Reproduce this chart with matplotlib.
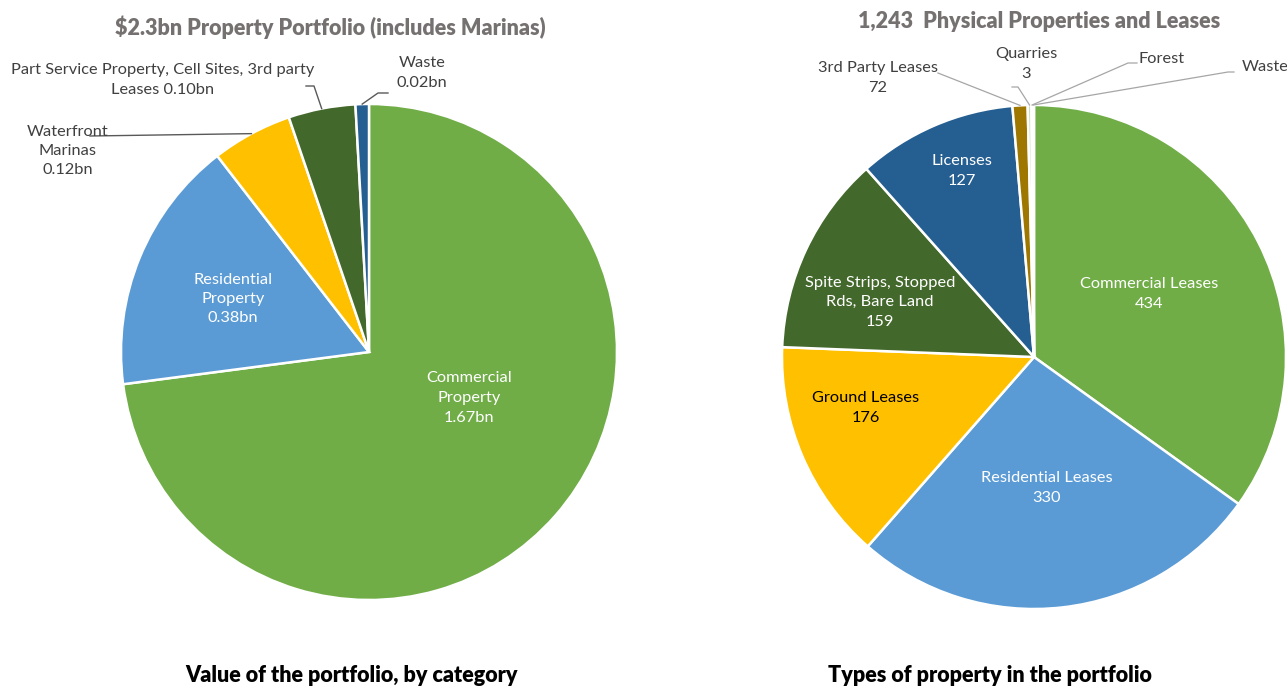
import numpy as np
import matplotlib.pyplot as plt

plt.rcParams['font.family'] = ['Lato', 'DejaVu Sans']

# left pie: value of the portfolio ($bn)
value_names = ["Commercial\nProperty\n1.67bn", "Residential\nProperty\n0.38bn",
               "Waterfront\nMarinas\n0.12bn",
               "Part Service Property, Cell Sites, 3rd party\nLeases 0.10bn",
               "Waste\n0.02bn"]
value_bn = [1.67, 0.38, 0.12, 0.10, 0.02]
value_colors = ["#70ad47", "#5b9bd5", "#ffc000", "#43682b", "#255e91"]

# right pie: number of properties / leases
# (label of 3rd party leases reads 72 but the slice is drawn ~12 so the total is 1,243)
type_names = ["Commercial Leases\n434", "Residential Leases\n330", "Ground Leases\n176",
              "Spite Strips, Stopped\nRds, Bare Land\n159", "Licenses\n127",
              "3rd Party Leases\n72", "Quarries\n3", "Forest", "Waste"]
type_counts = [434, 330, 176, 159, 127, 12, 3, 1, 1]
type_colors = ["#70ad47", "#5b9bd5", "#ffc000", "#43682b", "#255e91",
               "#9e7700", "#c5e0b4", "#a9d18e", "#e2f0d9"]

W, H = 1287, 687
fig = plt.figure(figsize=(W / 100, H / 100), dpi=100)
ax = fig.add_axes([0, 0, 1, 1])
ax.set_xlim(0, W)
ax.set_ylim(0, H)
ax.axis('off')

def Y(py):
    # pixel row (from top) -> axes y
    return H - py

def draw_pie(values, colors, center, radius):
    wedges, _ = ax.pie(values, colors=colors, startangle=90, counterclock=False,
                       center=center, radius=radius, frame=True,
                       wedgeprops=dict(edgecolor="white", linewidth=1.8))
    return wedges

def edge_point(w, frac=1.0):
    th = np.deg2rad((w.theta1 + w.theta2) / 2)
    cx, cy = w.center
    return cx + w.r * frac * np.cos(th), cy + w.r * frac * np.sin(th)

lab = dict(fontsize=11.8, ha="center", va="center", linespacing=1.5)
grey = "#404040"
line = dict(color="#a6a6a6", lw=0.9)

# ---- left pie
lw = draw_pie(value_bn, value_colors, (369, Y(352)), 248)
ax.text(469, Y(398), value_names[0], color="white", **lab)
ax.text(233, Y(299), value_names[1], color="white", **lab)
ax.text(68, Y(151), value_names[2], color=grey, **lab)
ax.text(163, Y(80), value_names[3], color=grey, **lab)
ax.text(422, Y(73), value_names[4], color=grey, **lab)

px, py = edge_point(lw[2])
ax.plot([90, px], [Y(136), py], color="#595959", lw=1.0)
px, py = edge_point(lw[3])
ax.plot([306, 314, px], [Y(86), Y(86), py], color="#595959", lw=1.0)
px, py = edge_point(lw[4])
ax.plot([388, 378, px], [Y(93), Y(93), py], color="#595959", lw=1.0)

# ---- right pie
rw = draw_pie(type_counts, type_colors, (1034, Y(357)), 252)
ax.text(1149, Y(294), type_names[0], color="white", **lab)
ax.text(1047, Y(488), type_names[1], color="white", **lab)
ax.text(866, Y(408), type_names[2], color="black", **lab)
ax.text(880, Y(302), type_names[3], color="white", **lab)
ax.text(962, Y(171), type_names[4], color="white", **lab)
ax.text(878, Y(78), type_names[5], color=grey, **lab)
ax.text(1026, Y(64), type_names[6], color=grey, **lab)
ax.text(1162, Y(59), type_names[7], color=grey, **lab)
ax.text(1265, Y(67), type_names[8], color=grey, **lab)

px, py = edge_point(rw[5])
ax.plot([938, px], [Y(73), py], **line)
px, py = edge_point(rw[6])
ax.plot([1012, 1018, px], [Y(87), Y(87), py], **line)
px, py = edge_point(rw[7])
ax.plot([1137, 1128, px], [Y(63), Y(63), py], **line)
px, py = edge_point(rw[8])
ax.plot([1234, 1228, px], [Y(72), Y(72), py], **line)

ax.set_xlim(0, W)
ax.set_ylim(0, H)
ax.set_aspect('equal')

# titles and captions
tgrey = "#767171"
ax.text(330, Y(27), "$2.3bn Property Portfolio (includes Marinas)", fontsize=15.5,
        fontweight="heavy", color=tgrey, ha="center", va="center")
ax.text(1039, Y(21), "1,243  Physical Properties and Leases", fontsize=15.5,
        fontweight="heavy", color=tgrey, ha="center", va="center")
ax.text(352, Y(675), "Value of the portfolio, by category", fontsize=15.5,
        fontweight="heavy", color="black", ha="center", va="center")
ax.text(990, Y(676), "Types of property in the portfolio", fontsize=15.5,
        fontweight="heavy", color="black", ha="center", va="center")

fig.savefig("out.png", dpi=100, facecolor="white")
